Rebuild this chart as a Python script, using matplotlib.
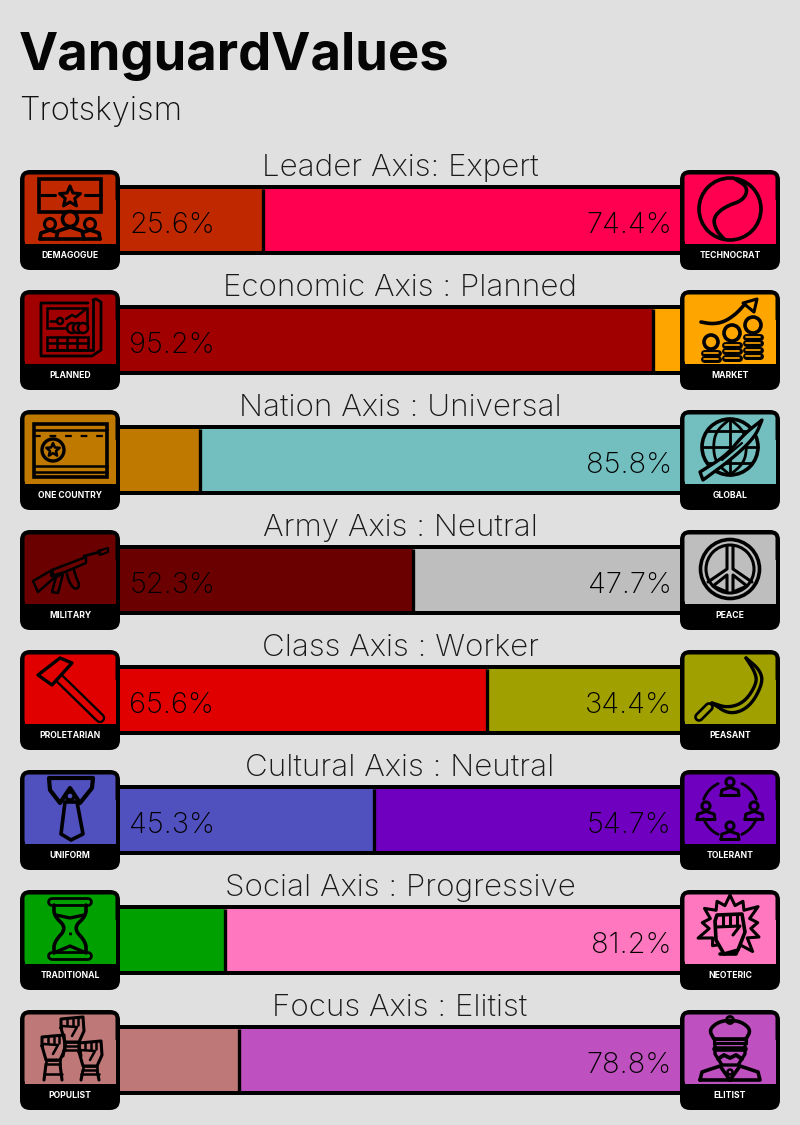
import numpy as np
import matplotlib
matplotlib.use('Agg')
import matplotlib.pyplot as plt
from matplotlib.patches import Circle, Polygon, Rectangle, FancyBboxPatch
from matplotlib.transforms import Affine2D

# Datos
titles = ['Leader Axis: Expert', 'Economic Axis : Planned', 'Nation Axis : Universal', 'Army Axis : Neutral',
          'Class Axis : Worker', 'Cultural Axis : Neutral', 'Social Axis : Progressive', 'Focus Axis : Elitist']
left_names = ['DEMAGOGUE', 'PLANNED', 'ONE COUNTRY', 'MILITARY', 'PROLETARIAN', 'UNIFORM', 'TRADITIONAL', 'POPULIST']
right_names = ['TECHNOCRAT', 'MARKET', 'GLOBAL', 'PEACE', 'PEASANT', 'TOLERANT', 'NEOTERIC', 'ELITIST']
left_values = [25.6, 95.2, 14.2, 52.3, 65.6, 45.3, 18.8, 21.2]
right_values = [74.4, 4.8, 85.8, 47.7, 34.4, 54.7, 81.2, 78.8]
left_colors = ['#C02800', '#A00000', '#BF7800', '#6B0000', '#E00000', '#5050BF', '#00A000', '#BF7878']
right_colors = ['#FF0050', '#FFA500', '#73BFBF', '#BEBEBE', '#A0A000', '#7000BF', '#FF78BF', '#BF50BF']
label_min = 25

BG = '#E0E0E0'
FONT = ['Inter', 'Open Sans', 'DejaVu Sans']
W, H = 800, 1125
LW = 2.2

fig = plt.figure(figsize=(W / 100, H / 100), dpi=100, facecolor=BG)
ax = fig.add_axes([0, 0, 1, 1])
ax.set_xlim(0, W)
ax.set_ylim(H, 0)
ax.axis('off')

# barras en su propio eje: 0-100 va de x=120 a x=680, una fila cada 120 px
bar_ax = fig.add_axes([120 / W, (H - 1120) / H, 560 / W, 960 / H], zorder=2)
bar_ax.set_xlim(0, 100)
bar_ax.set_ylim(7.5, -0.5)
bar_ax.axis('off')
rows = np.arange(len(titles))
bar_ax.barh(rows, [a + b for a, b in zip(left_values, right_values)], height=70 / 120, color='black', clip_on=False)
bar_ax.barh(rows, left_values, height=62 / 120, color=left_colors)
bar_ax.barh(rows, right_values, left=left_values, height=62 / 120, color=right_colors)
bar_ax.vlines(left_values, rows - 31 / 120, rows + 31 / 120, color='black', lw=2.4)


def chaikin(pts, n=3):
    pts = np.array(pts, dtype=float)
    for _ in range(n):
        a = pts[:-1] * 0.75 + pts[1:] * 0.25
        b = pts[:-1] * 0.25 + pts[1:] * 0.75
        mid = np.empty((a.shape[0] * 2, 2))
        mid[0::2] = a
        mid[1::2] = b
        pts = np.vstack([pts[0], mid, pts[-1]])
    return pts


class Icon:
    # dibuja en coordenadas locales de la caja (0-100, y hacia abajo)
    def __init__(self, ox, oy, color):
        self.t = Affine2D().translate(ox, oy) + ax.transData
        self.color = color

    def line(self, pts, lw=LW, color='black', smooth=False, **kw):
        pts = chaikin(pts) if smooth else np.array(pts, dtype=float)
        ax.plot(pts[:, 0], pts[:, 1], color=color, lw=lw, transform=self.t, zorder=6,
                solid_capstyle='round', solid_joinstyle='round', **kw)

    def tube(self, pts, outer, inner, **kw):
        self.line(pts, lw=outer, **kw)
        self.line(pts, lw=inner, color=self.color, **kw)

    def poly(self, pts, lw=LW, fill=None):
        ax.add_patch(Polygon(pts, closed=True, fc=fill or 'none', ec='black', lw=lw, transform=self.t, zorder=6,
                             joinstyle='round'))

    def circle(self, x, y, r, lw=LW, fill=None):
        ax.add_patch(Circle((x, y), r, fc=fill or 'none', ec='black', lw=lw, transform=self.t, zorder=6))

    def rect(self, x, y, w, h, lw=LW, fill=None):
        ax.add_patch(Rectangle((x, y), w, h, fc=fill or 'none', ec='black', lw=lw, transform=self.t, zorder=6))

    def star(self, x, y, r, lw=LW):
        ang = np.deg2rad(np.arange(10) * 36 - 90)
        rad = np.where(np.arange(10) % 2 == 0, r, r * 0.45)
        self.poly(np.c_[x + rad * np.cos(ang), y + rad * np.sin(ang)], lw=lw)

    def person(self, x, y, s=1.0, lw=LW):
        self.circle(x, y, 4.5 * s, lw=lw)
        self.line([(x - 10 * s, y + 15 * s), (x - 9 * s, y + 9 * s), (x, y + 6 * s), (x + 9 * s, y + 9 * s),
                   (x + 10 * s, y + 15 * s), (x - 10 * s, y + 15 * s)], lw=lw)

    def fist(self, x, y, bottom):
        self.line([(x - 11, y - 2), (x - 11, y - 11), (x + 11, y - 13), (x + 12, y + 1),
                   (x + 7, y + 12), (x - 7, y + 12), (x - 11, y - 2)], lw=LW, smooth=False)
        for dx in (-5, 1, 6):
            self.line([(x + dx, y - 12), (x + dx, y - 5)], lw=1.8)
        self.line([(x - 10, y - 4), (x + 5, y - 3), (x, y + 6)], lw=1.8)
        self.rect(x - 7, y + 12, 14, 4, lw=1.8)
        self.line([(x - 7, y + 16), (x - 9, bottom)], lw=LW)
        self.line([(x + 7, y + 16), (x + 9, bottom)], lw=LW)
        self.line([(x - 9, bottom - 6), (x + 9, bottom - 6)], lw=1.8)


def demagogue(i):
    i.rect(19, 9, 62, 33, lw=2.6)
    i.line([(19, 25), (35, 25)])
    i.line([(65, 25), (81, 25)])
    i.star(50, 27, 11)
    i.circle(50, 49, 7.5, lw=2.6, fill=i.color)
    i.line([(36, 69), (38, 61), (50, 57), (62, 61), (64, 69)], lw=2.6)
    i.circle(30, 54, 5.5)
    i.circle(70, 54, 5.5)
    i.line([(20, 69), (21, 63), (30, 60), (36, 62)], lw=2.6)
    i.line([(80, 69), (79, 63), (70, 60), (64, 62)], lw=2.6)
    i.line([(20, 69), (80, 69)], lw=2.6)


def planned(i):
    i.line([(73, 10), (73, 60), (62, 60), (27, 60)], lw=2)
    i.line([(68, 13), (21, 13), (21, 66), (72, 66), (81, 60), (81, 12), (76, 9), (73, 10)], lw=2)
    i.rect(27, 18, 40, 20, lw=1.8)
    i.circle(40, 31, 3, lw=1.8)
    i.line([(30, 31), (36, 31)], lw=1.8)
    i.line([(46, 29), (52, 25), (56, 27), (66, 19)], lw=1.8)
    for x in (52, 58, 63):
        i.circle(x, 38, 5, lw=1.8, fill=i.color)
    i.rect(27, 47, 41, 13, lw=1.8)
    i.line([(27, 53), (68, 53)], lw=1.8)
    for x in (37, 47, 57):
        i.line([(x, 47), (x, 60)], lw=1.8)


def market(i):
    i.line([(21, 32), (32, 34), (44, 32), (56, 24), (65, 14)], smooth=True, lw=2.6)
    i.poly([(77, 9), (63, 13), (74, 22)])
    for x, y, r, n in ((31, 52, 7, 2), (52, 43, 8, 3), (73, 35, 8, 4)):
        i.circle(x, y, r, lw=2.6)
        for k in range(n):
            i.tube([(x - 7, y + r + 3.5 + k * 6.5), (x + 7, y + r + 3.5 + k * 6.5)], 5, 1.2)


def one_country(i):
    i.rect(14, 14, 73, 53, lw=2.6)
    i.line([(14, 20), (87, 20)], lw=1.8)
    i.line([(14, 25.5), (87, 25.5)], lw=1.6, linestyle=(0, (3, 4)))
    i.line([(14, 56), (87, 56)], lw=1.8)
    i.line([(14, 62), (87, 62)], lw=1.8)
    i.circle(33, 40, 11, lw=2.4)
    i.star(33, 40, 7, lw=1.8)


def military(i):
    i.poly([(78, 21), (88, 18), (88, 22), (80, 25)], lw=1.6)
    i.line([(80, 22), (64, 26)], lw=2)
    i.poly([(66, 27), (32, 40), (31, 46), (45, 42), (66, 33)], lw=1.8)
    i.poly([(13, 51), (32, 40), (34, 48), (18, 62)], lw=1.8)
    i.poly([(36, 47), (32, 62), (38, 63), (43, 44)], lw=1.8)
    i.line([(47, 44), (49, 52), (55, 60), (60, 56), (56, 47), (54, 40)], lw=1.8, smooth=True)


def proletarian(i):
    i.tube([(38, 27), (80, 68)], 7.5, 4.2)
    i.poly([(18, 25), (40, 8), (52, 13), (32, 35)], lw=2.4, fill=i.color)


def uniform(i):
    i.poly([(29, 8), (73, 8), (72, 18), (60, 33), (50, 18), (40, 33), (30, 20)], lw=3)
    i.poly([(45, 32), (57, 32), (63, 64), (51, 70), (41, 64)], lw=2.6)
    i.circle(50, 26, 4, lw=2.4, fill=i.color)


def traditional(i):
    i.tube([(32, 12), (68, 12)], 7, 3)
    i.tube([(32, 66), (68, 66)], 7, 3)
    i.line([(34, 15), (34, 26), (47, 38), (34, 52), (34, 63)], lw=2.6, smooth=True)
    i.line([(66, 15), (66, 26), (53, 38), (66, 52), (66, 63)], lw=2.6, smooth=True)
    i.line([(36, 25), (50, 28), (64, 25)], lw=2.4)
    i.line([(36, 62), (50, 56), (64, 62)], lw=2.4)
    i.line([(50, 42), (50, 50)], lw=2, linestyle=(0, (1, 2)))


def populist(i):
    i.fist(52, 20, 46)
    i.fist(33, 38, 70)
    i.fist(70, 44, 70)


def technocrat(i):
    i.circle(50, 39, 31, lw=2.6)
    i.line([(55, 9), (68, 17), (64, 30), (44, 37), (33, 48), (36, 60), (44, 69)], lw=2.6, smooth=True)


def global_(i):
    i.circle(50, 37, 28, lw=2.6)
    i.line([(22, 37), (78, 37)], lw=2)
    i.line([(28, 21), (72, 21)], lw=2)
    i.line([(28, 53), (72, 53)], lw=2)
    i.line([(50, 9), (50, 65)], lw=2)
    i.line([(50, 9), (36, 21), (33, 37), (36, 53), (50, 65)], lw=2, smooth=True)
    i.line([(50, 9), (64, 21), (67, 37), (64, 53), (50, 65)], lw=2, smooth=True)
    upper = chaikin([(20, 62), (47, 45), (63, 25), (82, 10)])
    lower = chaikin([(82, 10), (75, 27), (53, 48), (23, 70)])
    i.poly(np.vstack([upper, lower]), lw=2.4, fill=i.color)
    i.line([(42, 50), (62, 33)], lw=1.6)


def peace(i):
    i.circle(50, 39, 29.5, lw=2.6)
    i.circle(50, 39, 24, lw=2.2)
    i.line([(47, 16), (47, 39), (28, 52)], lw=2.2)
    i.line([(53, 16), (53, 39), (72, 52)], lw=2.2)
    i.poly([(47, 45), (47, 62), (33, 56)], lw=2.2)
    i.poly([(53, 45), (53, 62), (67, 56)], lw=2.2)


def peasant(i):
    i.line([(66, 8), (80, 20), (83, 33), (70, 57), (50, 65), (32, 53)], lw=2.4, smooth=True)
    i.line([(66, 8), (75, 22), (77, 33), (65, 52), (48, 58), (32, 53)], lw=2.4, smooth=True)
    i.tube([(19, 67), (29, 57)], 7, 3.2)


def tolerant(i):
    i.person(50, 12, 0.9)
    i.person(26, 36, 0.9)
    i.person(74, 36, 0.9)
    i.person(50, 56, 0.9)
    for a, b in ((200, 245), (295, 340), (20, 65), (115, 160)):
        ang = np.deg2rad(np.linspace(a, b, 12))
        i.line(np.c_[50 + 28 * np.cos(ang), 39 + 28 * np.sin(ang)], lw=2)


def neoteric(i):
    ang = np.deg2rad(np.arange(26) * (360 / 26) - 90)
    rad = np.where(np.arange(26) % 2 == 0, 31, 21) * np.array([1, 1, .9, 1, 1.1, 1, .9, 1, 1, 1, 1.1, 1, .9,
                                                                1, .8, 1, .85, 1, 1.1, 1, .9, 1, 1, 1, .9, 1])
    i.poly(np.c_[50 + rad * np.cos(ang), 36 + rad * np.sin(ang)], lw=2.2)
    i.poly([(35, 31), (37, 25), (62, 24), (65, 42), (58, 60), (44, 64), (36, 50)], lw=2.6, fill=i.color)
    for x in (43, 50, 57):
        i.line([(x, 25), (x, 36)], lw=2.2)
    i.line([(36, 37), (60, 36), (53, 45)], lw=2.2)
    i.line([(40, 64), (56, 64)], lw=2.6)


def elitist(i):
    i.circle(50, 10, 3.5, lw=2)
    i.poly(chaikin([(34, 29), (29, 20), (38, 12), (50, 10), (62, 12), (71, 20), (66, 29)]), lw=2.6)
    i.rect(34, 29, 32, 4, lw=2.2)
    i.line([(35, 33), (35, 44), (42, 55), (58, 55), (65, 44), (65, 33)], lw=2.4)
    i.line([(35, 39), (65, 39)], lw=4)
    i.line([(38, 49), (44, 45), (50, 48), (56, 45), (62, 49)], lw=2.8)
    i.line([(20, 70), (22, 62), (40, 56), (50, 70), (60, 56), (78, 62), (80, 70), (20, 70)], lw=2.6)
    i.circle(50, 62, 2.5, lw=1.8)


left_icons = [demagogue, planned, one_country, military, proletarian, uniform, traditional, populist]
right_icons = [technocrat, market, global_, peace, peasant, tolerant, neoteric, elitist]


def draw_box(x, y, color, name, icon):
    ax.add_patch(FancyBboxPatch((x + 8, y + 8), 84, 84, boxstyle='round,pad=8,rounding_size=10', fc='black', ec='none',
                                zorder=4))
    ax.add_patch(FancyBboxPatch((x + 6.5, y + 6.5), 87, 65.5, boxstyle='round,pad=2,rounding_size=4', fc=color,
                                ec='none', zorder=5))
    ax.add_patch(Rectangle((x + 4.5, y + 30), 91, 44, fc=color, ec='none', zorder=5))
    ax.text(x + 50, y + 85.5, name, color='white', ha='center', va='center', fontsize=6.2, fontweight='bold',
            family=FONT, zorder=7)
    icon(Icon(x, y, color))


for n in rows:
    top = 170 + 120 * n
    draw_box(20, top, left_colors[n], left_names[n], left_icons[n])
    draw_box(680, top, right_colors[n], right_names[n], right_icons[n])
    ax.text(400, top + 6, titles[n], ha='center', va='baseline', fontsize=22.6, fontweight='light', family=FONT,
            color='#1a1a1a', zorder=7)
    if left_values[n] >= label_min:
        bar_ax.annotate(f'{left_values[n]}%', (0, n), xytext=(6.8, -3.8), textcoords='offset points', ha='left',
                        va='center', fontsize=21, fontweight='light', family=FONT, color='black')
    if right_values[n] >= label_min:
        bar_ax.annotate(f'{right_values[n]}%', (100, n), xytext=(-6, -3.8), textcoords='offset points', ha='right',
                        va='center', fontsize=21, fontweight='light', family=FONT, color='black')

ax.text(19, 70, 'VanguardValues', fontsize=37.8, fontweight='bold', family=FONT, color='#050505', va='baseline')
ax.text(19, 120, 'Trotskyism', fontsize=23.6, fontweight='light', family=FONT, color='#111111', va='baseline')

fig.savefig('out.png', dpi=100, facecolor=BG)
